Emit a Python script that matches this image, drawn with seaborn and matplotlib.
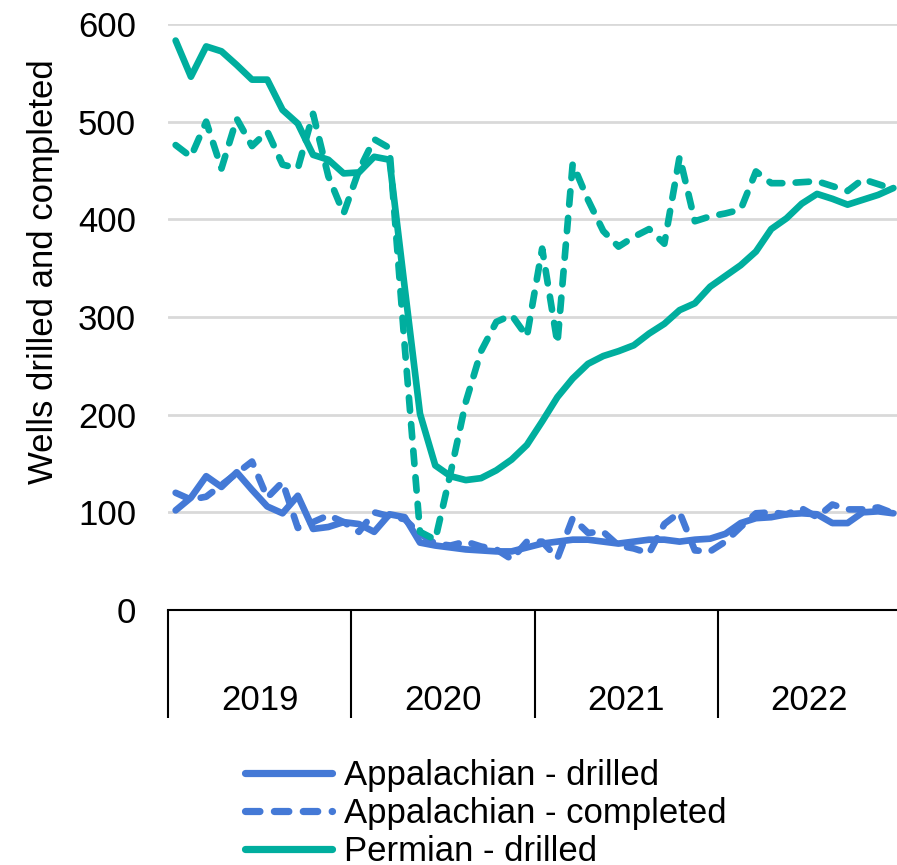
import numpy as np
import pandas as pd
import matplotlib.pyplot as plt
import seaborn as sns

years = ["2019", "2020", "2021", "2022"]

# monthly wells, Jan 2019 - Dec 2022
app_drilled = [102, 115, 137, 126, 141, 123, 106, 99, 117, 83, 85, 90,
               88, 80, 98, 95, 69, 66, 64, 62, 61, 60, 60, 64,
               68, 70, 72, 72, 70, 68, 70, 72, 72, 70, 72, 73,
               78, 89, 94, 95, 98, 99, 98, 89, 89, 100, 101, 99]
app_completed = [120, 113, 116, 128, 140, 152, 115, 131, 84, 90, 97, 90,
                 80, 100, 96, 93, 78, 68, 66, 70, 65, 62, 52, 70,
                 70, 53, 94, 79, 80, 66, 63, 58, 88, 100, 61, 60,
                 70, 85, 99, 100, 98, 104, 95, 108, 103, 103, 105, 99]
perm_drilled = [583, 546, 577, 572, 558, 543, 543, 512, 498, 466, 461, 447,
                448, 464, 461, 330, 201, 148, 137, 133, 135, 143, 154, 169,
                193, 218, 237, 252, 260, 265, 271, 283, 293, 307, 314, 331,
                342, 353, 367, 390, 401, 416, 426, 421, 415, 420, 425, 432]
perm_completed = [476, 464, 500, 452, 503, 475, 490, 456, 452, 508, 444, 406,
                  450, 482, 473, 270, 80, 72, 140, 213, 265, 295, 302, 280,
                  370, 273, 457, 420, 388, 372, 382, 390, 375, 464, 398, 403,
                  406, 410, 449, 437, 437, 438, 439, 434, 429, 441, 436, 431]

series_names = ["Appalachian - drilled", "Appalachian - completed",
                "Permian - drilled", "Permian - completed"]

blue = "#4479d6"
teal = "#00ae9e"

sns.set_style("white")
plt.rcParams["font.family"] = ["Liberation Sans", "DejaVu Sans"]
plt.rcParams["text.color"] = "black"
plt.rcParams["xtick.color"] = "black"
plt.rcParams["ytick.color"] = "black"
plt.rcParams["axes.labelcolor"] = "black"
plt.rcParams["lines.dash_capstyle"] = "round"
plt.rcParams["lines.solid_capstyle"] = "round"
plt.rcParams["lines.solid_joinstyle"] = "round"
plt.rcParams["lines.dash_joinstyle"] = "round"

month = np.arange(len(app_drilled))
df = pd.DataFrame({
    "month": month,
    series_names[0]: app_drilled,
    series_names[1]: app_completed,
    series_names[2]: perm_drilled,
    series_names[3]: perm_completed,
})
long = df.melt(id_vars="month", var_name="series", value_name="wells")

fig = plt.figure(figsize=(8.97, 8.65), dpi=100)
ax = fig.add_axes([0.1873, 0.2948, 0.8172, 0.6775])

dash = (2.0, 2.0)
sns.lineplot(data=long, x="month", y="wells", hue="series", style="series",
             hue_order=series_names, style_order=series_names,
             palette=[blue, blue, teal, teal],
             dashes={series_names[0]: "", series_names[1]: dash,
                     series_names[2]: "", series_names[3]: dash},
             linewidth=4.8, ax=ax)

handles, labels = ax.get_legend_handles_labels()
ax.get_legend().remove()

ax.set_xlim(-0.5, 47.5)
ax.set_ylim(0, 600)
ax.set_yticks(range(0, 601, 100))
ax.yaxis.grid(True, color="#d9d9d9", linewidth=2)
ax.set_axisbelow(True)

for s in ["left", "right", "top"]:
    ax.spines[s].set_visible(False)
ax.spines["bottom"].set_color("black")
ax.spines["bottom"].set_linewidth(1.5)

ax.tick_params(axis="y", left=False, length=0, pad=23, labelsize=25)
ax.set_xticks([-0.5, 11.5, 23.5, 35.5, 47.5])
ax.set_xticklabels([])
ax.set_xticks([5.5, 17.5, 29.5, 41.5], minor=True)
ax.set_xticklabels(years, minor=True)
ax.tick_params(axis="x", which="major", bottom=True, length=78, width=1.5,
               color="black", direction="out")
ax.tick_params(axis="x", which="minor", bottom=True, length=0, pad=53, labelsize=25)

ax.set_xlabel("")
ax.set_ylabel("Wells drilled and completed", fontsize=25)
ax.yaxis.set_label_coords(-0.148, 0.577)

for h in handles:
    h.set_linewidth(5.2)
fig.legend(handles, labels, loc="upper left", bbox_to_anchor=(0.273, 0.122),
           frameon=False, fontsize=25, handlelength=2.5, handletextpad=0.35,
           labelspacing=0.14, borderpad=0, borderaxespad=0)

fig.savefig("out.png", dpi=100)
